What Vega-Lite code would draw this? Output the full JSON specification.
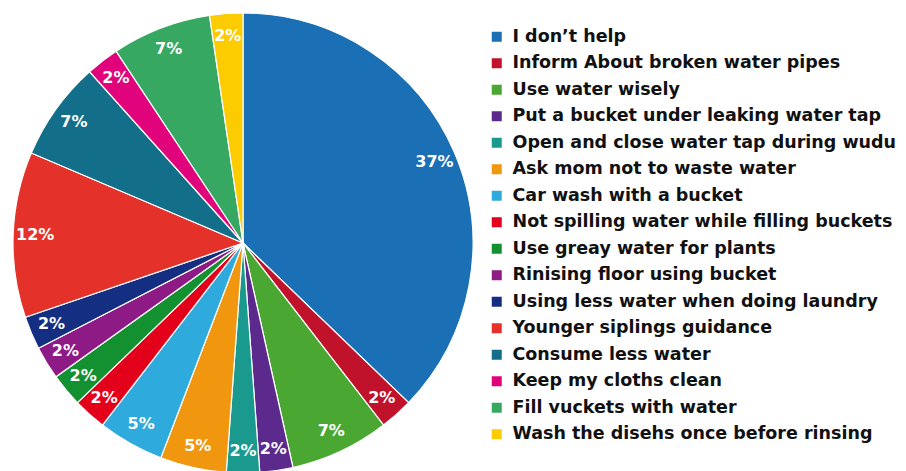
{
  "$schema": "https://vega.github.io/schema/vega-lite/v6.json",
  "width": 486,
  "height": 486,
  "padding": {"left": 0, "top": 0, "right": 420, "bottom": 0},
  "autosize": "none",
  "background": "white",
  "config": {"view": {"stroke": null}},
  "data": {"values": [
    {"i": 1, "answer": "I don’t help", "count": 16, "label": "37%"},
    {"i": 2, "answer": "Inform About broken water pipes", "count": 1, "label": "2%"},
    {"i": 3, "answer": "Use water wisely", "count": 3, "label": "7%"},
    {"i": 4, "answer": "Put a bucket under leaking water tap", "count": 1, "label": "2%"},
    {"i": 5, "answer": "Open and close water tap during wudu", "count": 1, "label": "2%"},
    {"i": 6, "answer": "Ask mom not to waste water", "count": 2, "label": "5%"},
    {"i": 7, "answer": "Car wash with a bucket", "count": 2, "label": "5%"},
    {"i": 8, "answer": "Not spilling water while filling buckets", "count": 1, "label": "2%"},
    {"i": 9, "answer": "Use greay water for plants", "count": 1, "label": "2%"},
    {"i": 10, "answer": "Rinising floor using bucket", "count": 1, "label": "2%"},
    {"i": 11, "answer": "Using less water when doing laundry", "count": 1, "label": "2%"},
    {"i": 12, "answer": "Younger siplings guidance", "count": 5, "label": "12%"},
    {"i": 13, "answer": "Consume less water", "count": 3, "label": "7%"},
    {"i": 14, "answer": "Keep my cloths clean", "count": 1, "label": "2%"},
    {"i": 15, "answer": "Fill vuckets with water", "count": 3, "label": "7%"},
    {"i": 16, "answer": "Wash the disehs once before rinsing", "count": 1, "label": "2%"}
  ]},
  "encoding": {
    "theta": {"field": "count", "type": "quantitative", "stack": true},
    "order": {"field": "i", "type": "quantitative"},
    "color": {
      "field": "answer", "type": "nominal", "sort": null,
      "scale": {
        "domain": ["I don’t help", "Inform About broken water pipes", "Use water wisely", "Put a bucket under leaking water tap", "Open and close water tap during wudu", "Ask mom not to waste water", "Car wash with a bucket", "Not spilling water while filling buckets", "Use greay water for plants", "Rinising floor using bucket", "Using less water when doing laundry", "Younger siplings guidance", "Consume less water", "Keep my cloths clean", "Fill vuckets with water", "Wash the disehs once before rinsing"],
        "range": ["#1b6fb4", "#c0122b", "#4aa832", "#5b2a8c", "#1a9a8f", "#f0960f", "#2eaadd", "#e3001b", "#13902f", "#8e1a86", "#142e82", "#e4322b", "#136e8a", "#e0037c", "#37a862", "#fccb00"]
      },
      "legend": {
        "title": null,
        "orient": "none",
        "legendX": 488,
        "legendY": 28,
        "symbolType": "square",
        "symbolSize": 100,
        "symbolStrokeWidth": 0,
        "labelFont": "DejaVu Sans",
        "labelFontWeight": "bold",
        "labelFontSize": 17.5,
        "labelColor": "#111111",
        "labelLimit": 500,
        "labelOffset": 7,
        "rowPadding": 7.5,
        "padding": 0
      }
    }
  },
  "layer": [
    {"mark": {"type": "arc", "outerRadius": 230, "stroke": "white", "strokeWidth": 1.2}},
    {"mark": {"type": "text", "radius": 208, "font": "DejaVu Sans", "fontWeight": "bold", "fontSize": 16, "fill": "white", "align": "center", "baseline": "middle"},
     "encoding": {"text": {"field": "label", "type": "nominal"}, "color": {"value": "white"}}}
  ]
}
